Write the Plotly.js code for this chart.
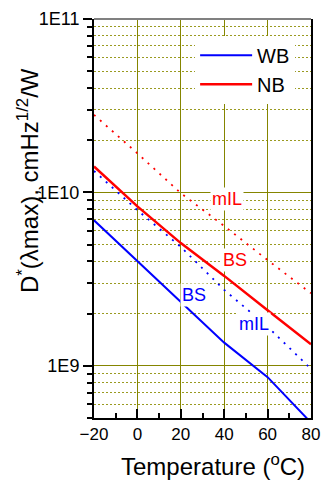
<!DOCTYPE html>
<html>
<head>
<meta charset="utf-8">
<script src="https://cdn.plot.ly/plotly-3.0.1.min.js"></script>
<style>html,body{margin:0;padding:0;background:#fff;}#chart{width:323px;height:481px;}</style>
</head>
<body>
<div id="chart"></div>
<script>
// Data
var temps = [-20, 0, 20, 40, 60, 80];
var wbBS  = [6.9e9, 4.0e9, 2.35e9, 1.36e9, 8.6e8, 4.7e8];
var nbBS  = [1.41e10, 8.3e9, 5.1e9, 3.3e9, 2.09e9, 1.33e9];
var wbMIL = [1.33e10, 7.9e9, 4.85e9, 2.74e9, 1.68e9, 9.6e8];
var nbMIL = [2.8e10, 1.68e10, 9.9e9, 6.4e9, 4.07e9, 2.62e9];
var seriesNames = ['WB', 'NB'];
var yTickVals = [1e9, 1e10, 1e11];
var yTickText = ['1E9', '1E10', '1E11'];
var xTickVals = [-20, 0, 20, 40, 60, 80];

var minorVals = [];
[8, 9, 10].forEach(function (p) {
  for (var m = 2; m <= 9; m++) minorVals.push(m * Math.pow(10, p));
});

var FONT = 'Liberation Sans, Arial, sans-serif';
var OLIVE = '#858500';

var traces = [
  {x: temps, y: wbMIL, mode: 'lines', name: seriesNames[0], legendgroup: 'wb', showlegend: false,
   line: {color: '#0000ff', width: 1.8, dash: '2px,6px'}},
  {x: temps, y: nbMIL, mode: 'lines', name: seriesNames[1], legendgroup: 'nb', showlegend: false,
   line: {color: '#ff0000', width: 1.8, dash: '2px,6px'}},
  {x: temps, y: wbBS, mode: 'lines', name: seriesNames[0], legendgroup: 'wb',
   line: {color: '#0000ff', width: 2}},
  {x: temps, y: nbBS, mode: 'lines', name: seriesNames[1], legendgroup: 'nb',
   line: {color: '#ff0000', width: 2.5}}
];

function lbl(x, y, text, color) {
  return {x: x, y: y, xref: 'x', yref: 'y', text: text, showarrow: false,
    font: {family: FONT, size: 18, color: color}, bgcolor: '#ffffff', borderpad: 1};
}

var layout = {
  width: 323, height: 481,
  margin: {l: 94, r: 12, t: 19, b: 63},
  paper_bgcolor: '#ffffff', plot_bgcolor: '#ffffff',
  font: {family: FONT, color: '#000000'},
  showlegend: true,
  legend: {x: 0.466, y: 0.958, xanchor: 'left', yanchor: 'top', bgcolor: '#ffffff',
    borderwidth: 0, font: {family: FONT, size: 20, color: '#000000'}, itemwidth: 52,
    tracegroupgap: 0},
  xaxis: {
    range: [-20, 80], tickmode: 'array', tickvals: xTickVals,
    ticks: 'inside', ticklen: 9, tickwidth: 2, tickcolor: '#000000',
    tickfont: {family: FONT, size: 17, color: '#000000'},
    showline: true, linecolor: '#000000', linewidth: 2, mirror: false,
    showgrid: true, gridcolor: OLIVE, gridwidth: 1.3, zeroline: false,
    minor: {dtick: 10, tick0: -20, ticks: 'inside', ticklen: 5, tickwidth: 2, tickcolor: '#000000', showgrid: false}
  },
  yaxis: {
    type: 'log', range: [Math.log10(5e8), 11],
    tickmode: 'array', tickvals: yTickVals, ticktext: yTickText,
    ticks: 'outside', ticklen: 9, tickwidth: 2, tickcolor: '#000000',
    tickfont: {family: FONT, size: 18, color: '#000000'},
    showline: true, linecolor: '#000000', linewidth: 2, mirror: true,
    showgrid: true, gridcolor: OLIVE, gridwidth: 1.3, zeroline: false,
    minor: {tickmode: 'array', tickvals: minorVals, ticks: 'outside', ticklen: 5, tickwidth: 2,
      tickcolor: '#000000', showgrid: true, gridcolor: '#9a9a20', gridwidth: 1, griddash: '1.5px,2.5px'}
  },
  shapes: [
    {type: 'line', xref: 'paper', yref: 'paper', x0: 0, x1: 1, y0: 1, y1: 1,
     line: {color: '#808080', width: 2}}
  ],
  annotations: [
    lbl(41.2, 9.96, 'mIL', '#ff0000'),
    lbl(45.1, 9.61, 'BS', '#ff0000'),
    lbl(26.3, 9.408, 'BS', '#0000ff'),
    lbl(53.8, 9.24, 'mIL', '#0000ff'),
    {xref: 'paper', yref: 'paper', x: 0.547, y: -0.119, xanchor: 'center', yanchor: 'middle',
     text: 'Temperature (<sup>o</sup>C)', showarrow: false,
     font: {family: FONT, size: 24, color: '#000000'}},
    {xref: 'paper', yref: 'paper', x: -0.305, y: 0.596, xanchor: 'center', yanchor: 'middle',
     textangle: -90, text: 'D<sup>*</sup>(λmax), cmHz<sup>1/2</sup>/W', showarrow: false,
     font: {family: FONT, size: 24, color: '#000000'}}
  ]
};

Plotly.newPlot('chart', traces, layout, {displayModeBar: false, staticPlot: true});
</script>
</body>
</html>
